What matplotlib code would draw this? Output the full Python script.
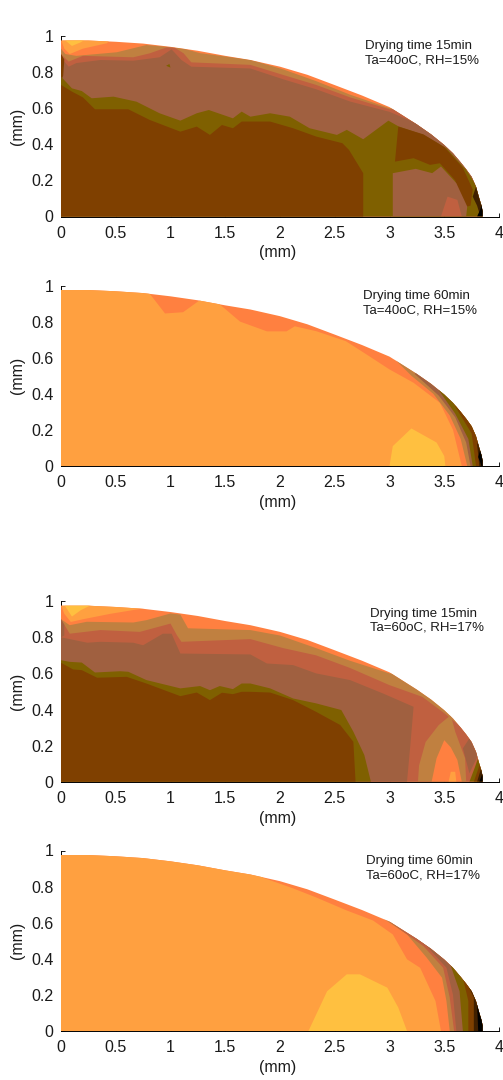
import matplotlib
matplotlib.use('Agg')
import matplotlib.pyplot as plt
from matplotlib.patches import Polygon

plt.rcParams['font.family'] = ['Liberation Sans', 'DejaVu Sans']

# colour levels of the map
BLACK = '#000000'
D1 = '#402000'
D2 = '#7f4000'
OLIVE = '#7f6000'
MAUVE = '#a06040'
RED = '#c06040'
TAN = '#c08040'
ORANGE = '#ff8040'
LIGHT = '#ffa040'
YELLOW = '#ffc040'

x_ticks = [0, 0.5, 1, 1.5, 2, 2.5, 3, 3.5, 4]
x_labels = ['0', '0.5', '1', '1.5', '2', '2.5', '3', '3.5', '4']
y_ticks = [0, 0.2, 0.4, 0.6, 0.8, 1]
y_labels = ['0', '0.2', '0.4', '0.6', '0.8', '1']

# droplet outline
rim_x = [0, 0.25, 0.5, 0.75, 1, 1.25, 1.5, 1.73, 2, 2.25, 2.5, 2.75, 3, 3.12, 3.25, 3.38, 3.5, 3.58, 3.65, 3.7, 3.75,
         3.79, 3.82, 3.84, 3.85, 3.85, 0]
rim_y = [0.975, 0.975, 0.968, 0.958, 0.94, 0.918, 0.89, 0.867, 0.83, 0.785, 0.728, 0.67, 0.606, 0.56, 0.51, 0.455,
         0.396, 0.35, 0.30, 0.262, 0.22, 0.165, 0.10, 0.06, 0.03, 0, 0]

notes = ['Drying time 15min\nTa=40oC, RH=15%', 'Drying time 60min\nTa=40oC, RH=15%',
         'Drying time 15min\nTa=60oC, RH=17%', 'Drying time 60min\nTa=60oC, RH=17%']
note_x = [2.776, 2.76, 2.82, 2.785]
note_y = [0.903, 0.90, 0.891, 0.90]

# panel 1: 40C, 15 min
a_light_x = [0, 0.03, 0.08, 0.2, 0.42, 0.45]
a_light_y = [0.98, 0.93, 0.90, 0.93, 0.96, 0.98]
a_yellow_x = [0.03, 0.1, 0.18, 0.22]
a_yellow_y = [0.98, 0.945, 0.965, 0.98]
a_tan_x = [0, 0.04, 0.14, 0.51, 0.78, 0.965, 1.12, 1.27, 1.73, 2.03, 2.33, 2.64, 3.0, 4.3]
a_tan_y = [0.93, 0.9, 0.89, 0.91, 0.95, 0.94, 0.93, 0.905, 0.868, 0.815, 0.75, 0.675, 0.60, 0.60]
a_red_x = [0, 0.07, 0.2, 0.66, 0.81, 0.965, 1.04, 1.12, 1.19, 1.73, 2.03, 2.33, 2.64, 3.0, 4.3]
a_red_y = [0.9, 0.858, 0.89, 0.882, 0.904, 0.937, 0.935, 0.904, 0.854, 0.84, 0.784, 0.729, 0.66, 0.594, 0.594]
a_mauve_x = [0, 0.07, 0.14, 0.36, 0.66, 0.9, 1.01, 1.1, 1.19, 1.73, 2.03, 2.33, 2.64, 3.0, 3.31, 4.3]
a_mauve_y = [0.88, 0.83, 0.85, 0.867, 0.863, 0.882, 0.926, 0.867, 0.83, 0.82, 0.76, 0.705, 0.637, 0.58, 0.50, 0.50]
a_sliver_x = [0, 0.03, 0.02, 0]
a_sliver_y = [0.90, 0.87, 0.78, 0.75]
a_olive_x = [0, 0.1, 0.19, 0.28, 0.48, 0.69, 0.9, 1.09, 1.24, 1.35, 1.57, 1.65, 1.73, 1.91, 2.09, 2.27, 2.52, 2.61,
             2.76, 2.99, 3.08, 3.31, 3.52, 3.70, 3.82, 3.9]
a_olive_y = [0.775, 0.71, 0.695, 0.655, 0.664, 0.636, 0.572, 0.531, 0.572, 0.59, 0.544, 0.581, 0.553, 0.572, 0.553,
             0.489, 0.452, 0.48, 0.428, 0.531, 0.50, 0.452, 0.378, 0.258, 0.148, 0.1]
a_dark_x = [0, 0.1, 0.2, 0.31, 0.615, 0.81, 1.09, 1.24, 1.36, 1.47, 1.57, 1.65, 1.73, 1.91, 2.12, 2.33, 2.57, 2.63,
            2.76, 2.76]
a_dark_y = [0.729, 0.692, 0.66, 0.594, 0.594, 0.535, 0.47, 0.498, 0.452, 0.507, 0.489, 0.526, 0.526, 0.526, 0.489,
            0.443, 0.406, 0.369, 0.24, 0]
a_dark2_x = [3.08, 3.31, 3.5, 3.67, 3.76, 3.74, 3.68, 3.6, 3.46, 3.37, 3.22, 3.05]
a_dark2_y = [0.498, 0.455, 0.385, 0.27, 0.15, 0.06, 0.05, 0.2, 0.295, 0.286, 0.323, 0.304]
a_island_x = [3.03, 3.24, 3.39, 3.47, 3.61, 3.71, 3.70, 3.03]
a_island_y = [0.24, 0.264, 0.24, 0.277, 0.185, 0.055, 0, 0]
a_spot_x = [3.47, 3.53, 3.62, 3.66]
a_spot_y = [0, 0.11, 0.092, 0]
a_speck_x = [0.96, 0.99, 1.0]
a_speck_y = [0.835, 0.845, 0.825]
a_rim1_x = [3.76, 3.8, 3.83]
a_rim1_y = [0.11, 0.06, 0]
a_rim2_x = [3.83, 3.80]
a_rim2_y = [0.04, 0]

# panel 2: 40C, 60 min
b_light_x = [0, 0.752, 0.95, 1.115, 1.285, 1.406, 1.635, 1.88, 2.06, 2.135, 2.33, 2.6, 2.79, 3, 3.22, 3.46, 3.58, 3.66]
b_light_y = [1, 1, 0.845, 0.852, 0.926, 0.918, 0.80, 0.746, 0.746, 0.774, 0.747, 0.692, 0.618, 0.535, 0.461, 0.35, 0.2, 0]
b_tan_x = [3.0, 3.2, 3.4, 3.55, 3.65, 3.71]
b_tan_y = [0.62, 0.50, 0.40, 0.28, 0.15, 0]
b_mauve_x = [3.23, 3.45, 3.6, 3.7, 3.74]
b_mauve_y = [0.51, 0.39, 0.27, 0.13, 0]
b_olive_x = [3.45, 3.6, 3.72, 3.76]
b_olive_y = [0.42, 0.29, 0.15, 0]
b_dark_x = [3.6, 3.75, 3.79]
b_dark_y = [0.33, 0.18, 0]
b_rim1_x = [3.8, 3.82]
b_rim1_y = [0.12, 0]
b_rim2_x = [3.81, 3.84]
b_rim2_y = [0.05, 0]
b_yellow_x = [3.0, 3.03, 3.2, 3.43, 3.5, 3.51]
b_yellow_y = [0, 0.11, 0.208, 0.13, 0.055, 0]

# panel 3: 60C, 15 min
c_light_x = [0, 0.03, 0.09, 0.2, 0.45, 0.75, 0.85]
c_light_y = [0.98, 0.93, 0.885, 0.9, 0.93, 0.96, 0.98]
c_yellow_x = [0.03, 0.1, 0.18, 0.28]
c_yellow_y = [0.98, 0.915, 0.95, 0.98]
c_tan_x = [0, 0.08, 0.235, 0.66, 0.78, 1.0, 1.09, 1.16, 1.73, 2.0, 2.33, 2.64, 3.0, 4.3]
c_tan_y = [0.90, 0.867, 0.886, 0.882, 0.895, 0.932, 0.926, 0.85, 0.84, 0.81, 0.74, 0.67, 0.60, 0.60]
c_red_x = [0, 0.08, 0.36, 0.72, 1.0, 1.06, 1.1, 1.73, 2.03, 2.33, 2.64, 3.0, 3.3, 3.5, 3.6, 3.7, 4.3]
c_red_y = [0.90, 0.82, 0.84, 0.83, 0.876, 0.81, 0.775, 0.79, 0.74, 0.70, 0.63, 0.535, 0.47, 0.38, 0.33, 0.28, 0.27]
c_mauve_x = [0, 0.24, 0.36, 0.66, 0.75, 0.93, 1.01, 1.09, 1.73, 1.88, 2.12, 2.33, 2.64, 2.94, 3.22, 3.19, 3.16]
c_mauve_y = [0.80, 0.77, 0.775, 0.77, 0.756, 0.82, 0.82, 0.71, 0.705, 0.655, 0.646, 0.60, 0.563, 0.489, 0.415, 0.2, 0]
c_sliver_x = [0, 0.03, 0.03, 0]
c_sliver_y = [0.9, 0.87, 0.81, 0.8]
c_olive_x = [0, 0.08, 0.19, 0.31, 0.54, 0.615, 0.78, 1.09, 1.27, 1.36, 1.45, 1.57, 1.65, 1.73, 1.91, 2.12, 2.33, 2.56,
             2.67, 2.77, 2.83]
c_olive_y = [0.673, 0.664, 0.66, 0.605, 0.612, 0.609, 0.563, 0.517, 0.53, 0.507, 0.53, 0.513, 0.544, 0.544, 0.517,
             0.461, 0.434, 0.397, 0.277, 0.148, 0]
c_dark_x = [0, 0.11, 0.19, 0.33, 0.6, 0.78, 1.09, 1.24, 1.36, 1.47, 1.57, 1.65, 1.73, 1.91, 2.12, 2.33, 2.55, 2.67, 2.69]
c_dark_y = [0.659, 0.622, 0.618, 0.576, 0.581, 0.544, 0.474, 0.494, 0.452, 0.493, 0.485, 0.498, 0.498, 0.494, 0.452,
            0.387, 0.314, 0.221, 0]
c_lobe_x = [3.26, 3.27, 3.33, 3.45, 3.56, 3.6, 3.69, 3.7]
c_lobe_y = [0, 0.09, 0.22, 0.314, 0.369, 0.277, 0.13, 0]
c_lobe2_x = [3.385, 3.43, 3.5, 3.56, 3.62, 3.66]
c_lobe2_y = [0, 0.13, 0.23, 0.19, 0.12, 0]
c_spot_x = [3.54, 3.56, 3.6, 3.61]
c_spot_y = [0, 0.055, 0.055, 0]
c_patch_x = [3.67, 3.73, 3.81, 3.73]
c_patch_y = [0.185, 0.24, 0.148, 0.046]
c_rim_olive_x = [3.82, 3.78, 3.73]
c_rim_olive_y = [0.15, 0.08, 0]
c_rim_dark_x = [3.84, 3.81, 3.77]
c_rim_dark_y = [0.13, 0.07, 0]
c_rim1_x = [3.83, 3.8]
c_rim1_y = [0.06, 0]
c_rim2_x = [3.84, 3.82]
c_rim2_y = [0.03, 0]

# panel 4: 60C, 60 min
d_light_x = [0, 1.6, 1.85, 2.12, 2.33, 2.6, 2.85, 3.03, 3.16, 3.28, 3.42, 3.47]
d_light_y = [1, 1, 0.848, 0.79, 0.74, 0.67, 0.612, 0.535, 0.397, 0.35, 0.166, 0]
d_tan_x = [2.91, 3.16, 3.34, 3.48, 3.52, 3.55]
d_tan_y = [0.637, 0.535, 0.406, 0.295, 0.166, 0]
d_red_x = [3.0, 3.31, 3.49, 3.55, 3.59]
d_red_y = [0.605, 0.47, 0.35, 0.185, 0]
d_mauve_x = [3.06, 3.34, 3.52, 3.58, 3.61]
d_mauve_y = [0.59, 0.47, 0.35, 0.2, 0]
d_olive_x = [3.34, 3.55, 3.64, 3.67]
d_olive_y = [0.498, 0.378, 0.22, 0]
d_dark_x = [3.52, 3.67, 3.72, 3.72]
d_dark_y = [0.415, 0.295, 0.166, 0]
d_rim1_x = [3.67, 3.77, 3.77]
d_rim1_y = [0.314, 0.185, 0]
d_rim2_x = [3.8, 3.81]
d_rim2_y = [0.148, 0]
d_yellow_x = [2.26, 2.43, 2.61, 2.73, 2.98, 3.08, 3.16]
d_yellow_y = [0, 0.22, 0.314, 0.314, 0.24, 0.13, 0]


def below(xs, ys):
    return xs + [xs[-1], xs[0]], ys + [-0.01, -0.01]


def right_of(xs, ys):
    return xs + [4.3, 4.3], ys + [-0.01, 1.1]


panels = [
    (ORANGE, [
        (LIGHT, a_light_x, a_light_y), (YELLOW, a_yellow_x, a_yellow_y),
        (TAN, *below(a_tan_x, a_tan_y)), (RED, *below(a_red_x, a_red_y)),
        (MAUVE, *below(a_mauve_x, a_mauve_y)), (D2, a_sliver_x, a_sliver_y),
        (OLIVE, *below(a_olive_x, a_olive_y)), (D2, *below(a_dark_x, a_dark_y)),
        (D2, a_dark2_x, a_dark2_y), (MAUVE, a_island_x, a_island_y),
        (RED, a_spot_x, a_spot_y), (OLIVE, a_speck_x, a_speck_y),
        (D1, *right_of(a_rim1_x, a_rim1_y)), (BLACK, *right_of(a_rim2_x, a_rim2_y)),
    ]),
    (ORANGE, [
        (LIGHT, *below(b_light_x, b_light_y)), (TAN, *right_of(b_tan_x, b_tan_y)),
        (MAUVE, *right_of(b_mauve_x, b_mauve_y)), (OLIVE, *right_of(b_olive_x, b_olive_y)),
        (D2, *right_of(b_dark_x, b_dark_y)), (D1, *right_of(b_rim1_x, b_rim1_y)),
        (BLACK, *right_of(b_rim2_x, b_rim2_y)), (YELLOW, b_yellow_x, b_yellow_y),
    ]),
    (ORANGE, [
        (LIGHT, c_light_x, c_light_y), (YELLOW, c_yellow_x, c_yellow_y),
        (TAN, *below(c_tan_x, c_tan_y)), (RED, *below(c_red_x, c_red_y)),
        (MAUVE, *below(c_mauve_x, c_mauve_y)), (MAUVE, c_sliver_x, c_sliver_y),
        (OLIVE, *below(c_olive_x, c_olive_y)), (D2, *below(c_dark_x, c_dark_y)),
        (TAN, c_lobe_x, c_lobe_y), (ORANGE, c_lobe2_x, c_lobe2_y), (LIGHT, c_spot_x, c_spot_y),
        (MAUVE, c_patch_x, c_patch_y), (OLIVE, *right_of(c_rim_olive_x, c_rim_olive_y)),
        (D2, *right_of(c_rim_dark_x, c_rim_dark_y)), (D1, *right_of(c_rim1_x, c_rim1_y)),
        (BLACK, *right_of(c_rim2_x, c_rim2_y)),
    ]),
    (ORANGE, [
        (LIGHT, *below(d_light_x, d_light_y)), (TAN, *right_of(d_tan_x, d_tan_y)),
        (RED, *right_of(d_red_x, d_red_y)), (MAUVE, *right_of(d_mauve_x, d_mauve_y)),
        (OLIVE, *right_of(d_olive_x, d_olive_y)), (D2, *right_of(d_dark_x, d_dark_y)),
        (D1, *right_of(d_rim1_x, d_rim1_y)), (BLACK, *right_of(d_rim2_x, d_rim2_y)),
        (YELLOW, d_yellow_x, d_yellow_y),
    ]),
]

W, H = 503, 1080
fig = plt.figure(figsize=(W / 100, H / 100), dpi=100)
axis_bottom = [216.5, 466, 781.7, 1031]

for i, (base, layers) in enumerate(panels):
    ax = fig.add_axes([61 / W, 1 - axis_bottom[i] / H, 438 / W, 180.5 / H])
    clip = Polygon(list(zip(rim_x, rim_y)), closed=True, transform=ax.transData)
    ax.fill(rim_x, rim_y, color=base, lw=0, zorder=2)
    for colour, xs, ys in layers:
        ax.fill(xs, ys, color=colour, lw=0, zorder=2, clip_path=clip)
    ax.set_xlim(0, 4)
    ax.set_ylim(0, 1)
    ax.set_xticks(x_ticks)
    ax.set_xticklabels(x_labels)
    ax.set_yticks(y_ticks)
    ax.set_yticklabels(y_labels)
    ax.set_axisbelow(True)
    ax.tick_params(direction='in', length=3, width=0.7, labelsize=11.5, colors='#1a1a1a')
    ax.tick_params(axis='x', pad=6.5)
    ax.tick_params(axis='y', pad=5.5)
    ax.spines['top'].set_visible(False)
    ax.spines['right'].set_visible(False)
    ax.spines['left'].set_linewidth(0.7)
    ax.spines['left'].set_zorder(1)
    ax.spines['bottom'].set_linewidth(0.7)
    ax.patch.set_visible(False)
    ax.set_xlabel('(mm)', fontsize=11.5, va='center', color='#1a1a1a')
    ax.xaxis.set_label_coords(217 / 438, -36.5 / 180.5)
    ax.set_ylabel('(mm)', fontsize=11.5, va='center', color='#1a1a1a')
    ax.yaxis.set_label_coords(-43 / 438, 0.5)
    ax.text(note_x[i], note_y[i], notes[i], fontsize=9.5, va='center', ha='left',
            color='#1a1a1a', linespacing=1.25)

fig.savefig('out.png', dpi=100)
